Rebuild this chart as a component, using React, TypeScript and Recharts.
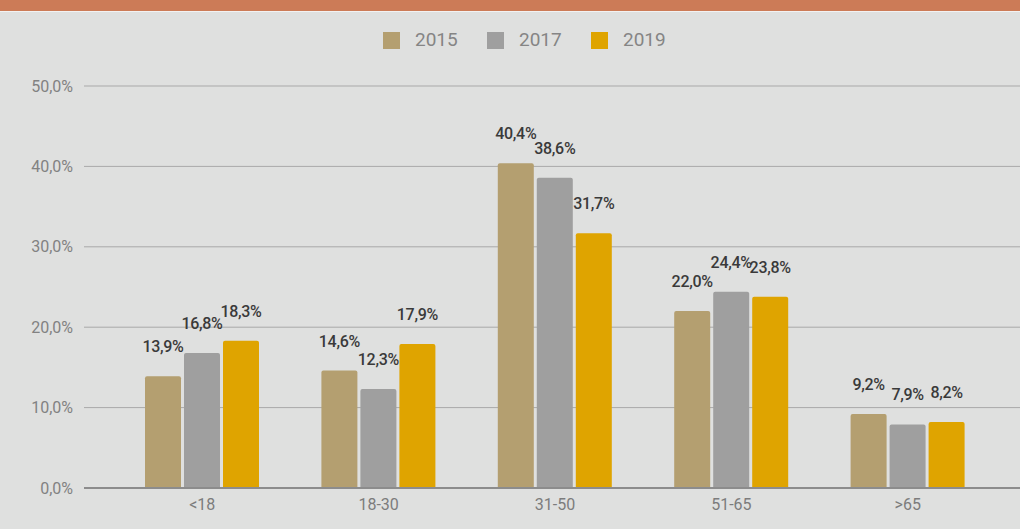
import { BarChart, Bar, XAxis, YAxis, CartesianGrid, LabelList } from 'recharts';

// faixas etárias
const categories = ['<18', '18-30', '31-50', '51-65', '>65'];
const years = ['2015', '2017', '2019'];
const values2015 = [13.9, 14.6, 40.4, 22.0, 9.2];
const values2017 = [16.8, 12.3, 38.6, 24.4, 7.9];
const values2019 = [18.3, 17.9, 31.7, 23.8, 8.2];
const yTicks = [0, 10, 20, 30, 40, 50];

const colors = ['#b49f70', '#9f9f9f', '#dfa400'];

const data = categories.map((cat, i) => ({
  cat,
  y2015: values2015[i],
  y2017: values2017[i],
  y2019: values2019[i],
}));

const fmt = (v: number) => v.toFixed(1).replace('.', ',') + '%';

const FONT = 'Roboto, "Noto Sans", sans-serif';

// rótulo acima da barra
const BarLabel = (props: any) => {
  const { x, y, width, value } = props;
  return (
    <text
      x={x + width / 2}
      y={y - 24}
      textAnchor="middle"
      fontFamily={FONT}
      fontSize={16}
      fontWeight={500}
      letterSpacing={-0.3}
      fill="#3a3a3a"
    >
      {fmt(value)}
    </text>
  );
};

export default function App() {
  return (
    <div style={{ position: 'relative', width: 1020, height: 529, background: '#dfe0df', overflow: 'hidden' }}>
      <style>{`body{margin:0}`}</style>
      {/* faixa do título (cortada) */}
      <div style={{ position: 'absolute', left: 0, top: 0, width: 1020, height: 11, background: '#cc7b57' }} />
      <div style={{ position: 'absolute', left: 0, top: 11, width: 1020, height: 1, background: '#f2f2f2' }} />

      {/* legenda */}
      <div style={{ position: 'absolute', left: 383, top: 29, display: 'flex', fontFamily: FONT }}>
        {years.map((yr, i) => (
          <div key={yr} style={{ display: 'flex', alignItems: 'center', width: 104 }}>
            <div style={{ width: 17, height: 17, background: colors[i], marginRight: 15 }} />
            <span style={{ fontSize: 19, color: '#858585', lineHeight: '22px' }}>{yr}</span>
          </div>
        ))}
      </div>

      <div style={{ position: 'absolute', left: 0, top: 0 }}>
        <BarChart
          width={1020}
          height={529}
          data={data}
          margin={{ top: 86, right: 0, bottom: 11, left: 0 }}
          barSize={36}
          barGap={3}
        >
          <CartesianGrid vertical={false} stroke="#a9a9a9" strokeWidth={1} />
          <XAxis
            dataKey="cat"
            height={30}
            padding={{ left: 30, right: 24 }}
            tickLine={false}
            tickSize={0}
            tickMargin={11}
            axisLine={{ stroke: '#8c8c8c', strokeWidth: 2 }}
            tick={{ fontFamily: FONT, fontSize: 16, fill: '#7c7c7c' }}
          />
          <YAxis
            width={84}
            domain={[0, 50]}
            ticks={yTicks}
            tickFormatter={fmt}
            axisLine={false}
            tickLine={false}
            tickSize={0}
            tickMargin={11}
            tick={{ fontFamily: FONT, fontSize: 16, fill: '#828282' }}
          />
          {years.map((yr, i) => (
            <Bar
              key={yr}
              dataKey={'y' + yr}
              name={yr}
              fill={colors[i]}
              radius={[2, 2, 0, 0]}
              isAnimationActive={false}
            >
              <LabelList dataKey={'y' + yr} content={<BarLabel />} />
            </Bar>
          ))}
        </BarChart>
      </div>
    </div>
  );
}
